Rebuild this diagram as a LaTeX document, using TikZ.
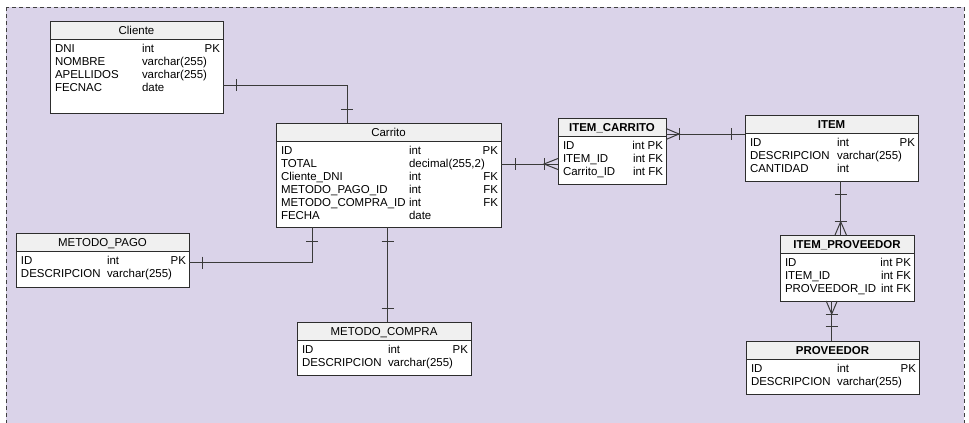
\documentclass[tikz,border=0pt]{standalone}
\usepackage{fontspec}
\setmainfont{Liberation Sans}
\usetikzlibrary{calc}

\definecolor{lilac}{RGB}{218,211,233}
\definecolor{hdrgray}{RGB}{240,240,240}
\definecolor{edgegray}{RGB}{45,45,45}
\definecolor{linkgray}{RGB}{58,58,58}

% #1 name, #2 left, #3 top, #4 right, #5 bottom, #6 title, #7 title weight
\newcommand\ertable[7]{%
  \node[tbox, minimum width={(#4-#2)*0.75pt}, minimum height={(#5-#3)*0.75pt}]
    (#1) at ({(#2+#4)/2},{(#3+#5)/2}) {};
  \fill[hdrgray] (#1.north west) rectangle ($(#1.north east)+(0,18)$);
  \draw[tline] ($(#1.north west)+(0,18)$) -- ($(#1.north east)+(0,18)$);
  \draw[tline] (#1.north west) rectangle (#1.south east);
  \node[anchor=base, font=\fontsize{8.6}{10}#7\selectfont] (#1-title)
    at ($(#1.north)+(0,13)$) {#6};
}
% #1 table, #2 row number, #3 type column offset, #4 name, #5 type, #6 key
\newcommand\errow[6]{%
  \node[cellw] (#1-#2n) at ($(#1.north west)+(5,{31+13*(#2-1)})$) {#4};
  \node[cellw] (#1-#2t) at ($(#1.north west)+(#3,{31+13*(#2-1)})$) {#5};
  \node[celle] (#1-#2k) at ($(#1.north east)+(-3,{31+13*(#2-1)})$) {#6};
}

\begin{document}
\begin{tikzpicture}[x=0.75pt,y=-0.75pt,
  every node/.style={inner sep=0pt, outer sep=0pt, font=\fontsize{8.6}{10}\selectfont},
  tbox/.style={draw=edgegray, fill=white, line width=0.75pt, rectangle},
  tline/.style={draw=edgegray, line width=0.75pt},
  cellw/.style={anchor=base west},
  celle/.style={anchor=base east},
  rel/.style={draw=linkgray, line width=0.75pt},
  tickmark/.style={draw=linkgray, line width=0.75pt},
]
\clip (0,0) rectangle (969,422);

% background frame
\draw[fill=lilac, draw=black!75, line width=0.75pt, dash pattern=on 3pt off 2.25pt]
  (6,7) rectangle (964,440);

% tables
\ertable{cli}{50}{21}{223}{113}{Cliente}{}
\errow{cli}{1}{92}{DNI}{int}{PK}
\errow{cli}{2}{92}{NOMBRE}{varchar(255)}{}
\errow{cli}{3}{92}{APELLIDOS}{varchar(255)}{}
\errow{cli}{4}{92}{FECNAC}{date}{}

\ertable{car}{276}{123}{501}{227}{Carrito}{}
\errow{car}{1}{133}{ID}{int}{PK}
\errow{car}{2}{133}{TOTAL}{decimal(255,2)}{}
\errow{car}{3}{133}{Cliente\_DNI}{int}{FK}
\errow{car}{4}{133}{METODO\_PAGO\_ID}{int}{FK}
\errow{car}{5}{133}{METODO\_COMPRA\_ID}{int}{FK}
\errow{car}{6}{133}{FECHA}{date}{}

\ertable{ic}{558}{118}{666}{184}{ITEM\_CARRITO}{\bfseries}
\errow{ic}{1}{75}{ID}{}{int PK}
\errow{ic}{2}{75}{ITEM\_ID}{}{int FK}
\errow{ic}{3}{75}{Carrito\_ID}{}{int FK}

\ertable{itm}{745}{115}{918}{181}{ITEM}{\bfseries}
\errow{itm}{1}{92}{ID}{int}{PK}
\errow{itm}{2}{92}{DESCRIPCION}{varchar(255)}{}
\errow{itm}{3}{92}{CANTIDAD}{int}{}

\ertable{ip}{780}{235}{914}{301}{ITEM\_PROVEEDOR}{\bfseries}
\errow{ip}{1}{100}{ID}{}{int PK}
\errow{ip}{2}{100}{ITEM\_ID}{}{int FK}
\errow{ip}{3}{100}{PROVEEDOR\_ID}{}{int FK}

\ertable{prov}{746}{341}{919}{394}{PROVEEDOR}{\bfseries}
\errow{prov}{1}{91}{ID}{int}{PK}
\errow{prov}{2}{91}{DESCRIPCION}{varchar(255)}{}

\ertable{mp}{16}{233}{189}{287}{METODO\_PAGO}{}
\errow{mp}{1}{91}{ID}{int}{PK}
\errow{mp}{2}{91}{DESCRIPCION}{varchar(255)}{}

\ertable{mc}{297}{322}{471}{375}{METODO\_COMPRA}{}
\errow{mc}{1}{91}{ID}{int}{PK}
\errow{mc}{2}{91}{DESCRIPCION}{varchar(255)}{}

% Cliente -- Carrito (one to one)
\draw[rel] ($(cli.north east)+(0,64)$) -| ($(car.north west)+(71.3,0)$);
\draw[tickmark] (236.7,79) -- (236.7,91);
\draw[tickmark] (341.3,109.3) -- (353.3,109.3);

% Carrito -- ITEM_CARRITO (one to many)
\draw[rel] ($(car.north east)+(0,41)$) -- ($(ic.north west)+(0,46)$);
\draw[tickmark] (515.7,158) -- (515.7,170);
\draw[tickmark] (544,158) -- (544,170);
\draw[tickmark] (558,158.5) -- (544,164) -- (558,169.5);

% ITEM_CARRITO -- ITEM (many to one)
\draw[rel] ($(ic.north east)+(0,16)$) -- ($(itm.north west)+(0,19)$);
\draw[tickmark] (666,128.5) -- (679,134) -- (666,139.5);
\draw[tickmark] (679,128) -- (679,140);
\draw[tickmark] (731.7,128) -- (731.7,140);

% ITEM -- ITEM_PROVEEDOR (one to many)
\draw[rel] ($(itm.south west)+(95.7,0)$) -- ($(ip.north west)+(60.7,0)$);
\draw[tickmark] (834.7,194.3) -- (846.7,194.3);
\draw[tickmark] (834.7,221.7) -- (846.7,221.7);
\draw[tickmark] (835,235) -- (840.7,221.7) -- (846.4,235);

% ITEM_PROVEEDOR -- PROVEEDOR (many to one)
\draw[rel] ($(ip.south west)+(51.7,0)$) -- ($(prov.north west)+(85.7,0)$);
\draw[tickmark] (826.2,301) -- (831.7,314) -- (837.2,301);
\draw[tickmark] (825.7,314) -- (837.7,314);
\draw[tickmark] (825.7,326.7) -- (837.7,326.7);

% Carrito -- METODO_PAGO (one to one)
\draw[rel] ($(car.south west)+(36.3,0)$) |- ($(mp.north east)+(0,29.7)$);
\draw[tickmark] (306.3,241) -- (318.3,241);
\draw[tickmark] (202.7,256.7) -- (202.7,268.7);

% Carrito -- METODO_COMPRA (one to one)
\draw[rel] ($(car.south west)+(111.7,0)$) -- ($(mc.north west)+(90.7,0)$);
\draw[tickmark] (381.7,241) -- (393.7,241);
\draw[tickmark] (381.7,308.3) -- (393.7,308.3);
\end{tikzpicture}
\end{document}
